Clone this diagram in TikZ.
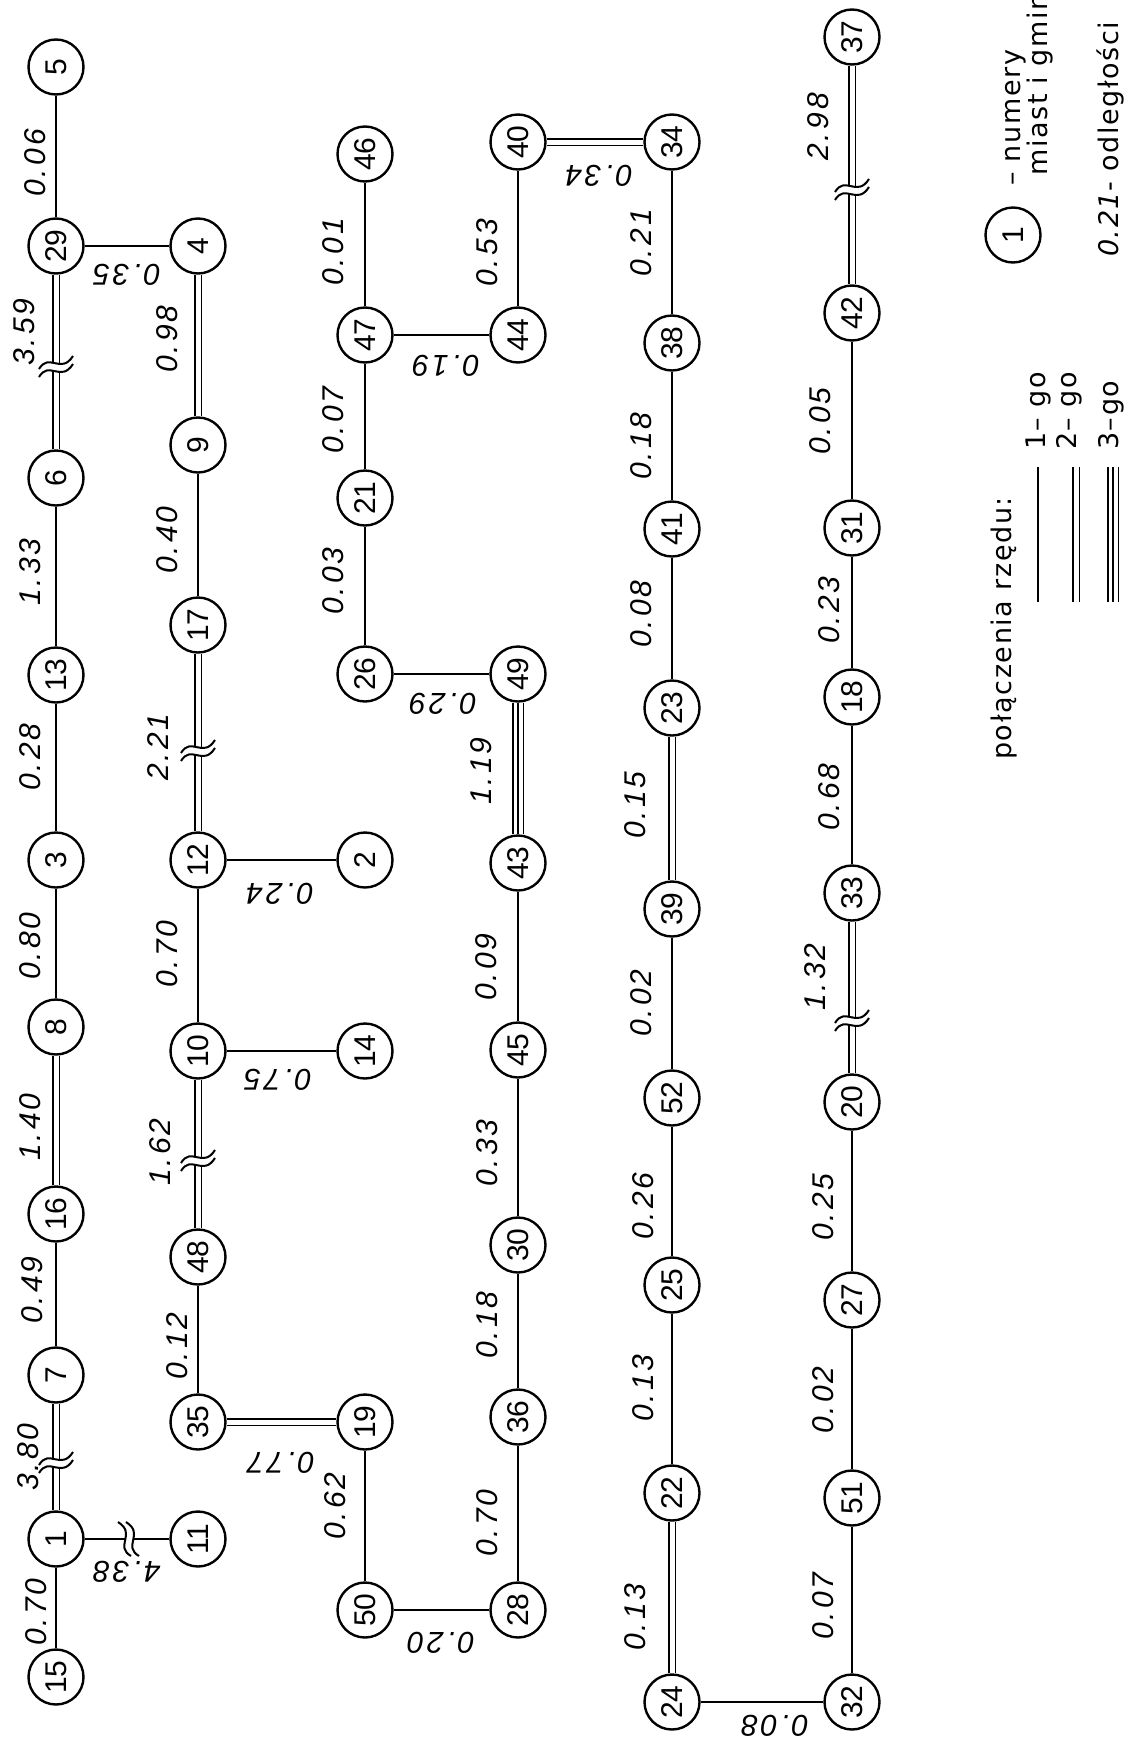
\documentclass[tikz,border=0pt]{standalone}
\usepackage{fontspec}
\usetikzlibrary{backgrounds}
\newfontfamily\ndff{Liberation Sans}
\newfontfamily\lbff{Liberation Sans}[LetterSpace=10]
\newfontfamily\lgff{DejaVu Sans}[LetterSpace=6]
\newcommand\ndfont{\ndff\fontsize{30}{32}\selectfont}
\newcommand\lbfont{\lbff\itshape\fontsize{30}{32}\selectfont}
\newcommand\lgfont{\lgff\fontsize{27}{29}\selectfont}
\tikzset{
  nd/.style={circle,draw,line width=2.4pt,minimum size=55pt,inner sep=0pt,font=\ndfont,rotate=90},
  lb/.style={font=\lbfont,rotate=90,inner sep=0pt},
  lbr/.style={font=\lbfont,rotate=180,inner sep=0pt},
  lg/.style={font=\lgfont,rotate=90,inner sep=0pt,anchor=base west},
  e1/.style={line width=1.9pt},
  e2/.style={line width=1.7pt,double=white,double distance=5pt},
  e3/.style={line width=1.6pt,double=white,double distance=9pt},
  e3m/.style={line width=1.6pt},
  brkmark/.pic={
    \fill[white] (-11,-2) rectangle (11,6);
    \draw[line width=2pt] (-17,4) .. controls (-7,-13) and (5,10) .. (17,-9);
    \draw[line width=2pt] (-17,12) .. controls (-7,-5) and (5,18) .. (17,-1);
  }
}
\begin{document}
\begin{tikzpicture}[x=1pt,y=-1pt]
\useasboundingbox (0,0) rectangle (1140,1748);
% nodes
\foreach \n/\x/\y in {5/56/67,29/56/246,6/56/478,13/56/675,3/56/860,8/56/1027,16/56/1214,7/56/1375,1/56/1539,15/56/1677,
  4/198/246,9/198/445,17/198/625,12/198/860,10/198/1051,48/198/1257,35/198/1422,11/198/1539,
  46/365/154,47/365/335,21/365/498,26/365/674,2/365/860,14/365/1051,19/365/1422,50/365/1610,
  40/518/142,44/518/335,49/518/674,43/518/863,45/518/1050,30/518/1245,36/518/1417,28/518/1610,
  34/672/142,38/672/343,41/672/529,23/672/708,39/672/909,52/672/1098,25/672/1285,22/672/1493,24/672/1702,
  37/852/37,42/852/313,31/852/528,18/852/697,33/852/893,20/852/1102,27/852/1300,51/852/1498,32/852/1702}
  {\node[nd] (n\n) at (\x,\y) {\n};}
% legend circle
\node[nd] (leg1) at (1013,235) {1};
% connectors
\begin{pgfonlayer}{background}
\fill[white] (0,0) rectangle (1140,1748);
\foreach \a/\b in {5/29,29/4,6/13,13/3,3/8,16/7,1/15,1/11,9/17,12/10,48/35,12/2,10/14,
  46/47,47/21,21/26,47/44,26/49,19/50,50/28,40/44,43/45,45/30,30/36,36/28,
  34/38,38/41,41/23,39/52,52/25,25/22,24/32,42/31,31/18,18/33,20/27,27/51,51/32}
  {\draw[e1] (n\a) -- (n\b);}
\foreach \a/\b in {29/6,8/16,7/1,4/9,17/12,10/48,35/19,40/34,23/39,22/24,37/42,33/20}
  {\draw[e2] (n\a) -- (n\b);}
\draw[e3] (n49) -- (n43);
\draw[e3m] (n49) -- (n43);
% breaks
\pic at (56,365) {brkmark};
\pic at (56,1461) {brkmark};
\pic[rotate=90] at (127,1539) {brkmark};
\pic at (198,749) {brkmark};
\pic at (198,1159) {brkmark};
\pic at (852,188) {brkmark};
\pic at (852,1019) {brkmark};
\end{pgfonlayer}
% labels column 1
\node[lb] (l1) at (35,163) {0.06};
\node[lb] (l2) at (24,332) {3.59};
\node[lb] (l3) at (30,572) {1.33};
\node[lb] (l4) at (30,757) {0.28};
\node[lb] (l5) at (30,946) {0.80};
\node[lb] (l6) at (30,1127) {1.40};
\node[lb] (l7) at (32,1290) {0.49};
\node[lb] (l8) at (28,1457) {3.80};
\node[lb] (l9) at (36,1612) {0.70};
\node[lbr] (l10) at (127,275) {0.35};
\node[lbr] (l11) at (127,1572) {4.38};
% column 2
\node[lb] (l12) at (167,339) {0.98};
\node[lb] (l13) at (167,540) {0.40};
\node[lb] (l14) at (158,747) {2.21};
\node[lb] (l15) at (167,954) {0.70};
\node[lb] (l16) at (160,1152) {1.62};
\node[lb] (l17) at (177,1346) {0.12};
\node[lbr] (l18) at (280,894) {0.24};
\node[lbr] (l19) at (278,1080) {0.75};
\node[lbr] (l20) at (281,1463) {0.77};
% column 3
\node[lb] (l21) at (333,252) {0.01};
\node[lb] (l22) at (333,420) {0.07};
\node[lb] (l23) at (333,581) {0.03};
\node[lb] (l24) at (335,1506) {0.62};
\node[lbr] (l25) at (446,366) {0.19};
\node[lbr] (l26) at (443,704) {0.29};
\node[lbr] (l27) at (441,1643) {0.20};
% column 4
\node[lb] (l28) at (487,253) {0.53};
\node[lb] (l29) at (481,771) {1.19};
\node[lb] (l30) at (486,967) {0.09};
\node[lb] (l31) at (487,1153) {0.33};
\node[lb] (l32) at (487,1325) {0.18};
\node[lb] (l33) at (487,1523) {0.70};
\node[lbr] (l34) at (599,176) {0.34};
% column 5
\node[lb] (l35) at (641,243) {0.21};
\node[lb] (l36) at (641,446) {0.18};
\node[lb] (l37) at (641,614) {0.08};
\node[lb] (l38) at (635,805) {0.15};
\node[lb] (l39) at (641,1003) {0.02};
\node[lb] (l40) at (643,1206) {0.26};
\node[lb] (l41) at (643,1388) {0.13};
\node[lb] (l42) at (635,1617) {0.13};
\node[lbr] (l43) at (775,1726) {0.08};
% column 6
\node[lb] (l44) at (818,127) {2.98};
\node[lb] (l45) at (820,421) {0.05};
\node[lb] (l46) at (829,610) {0.23};
\node[lb] (l47) at (829,797) {0.68};
\node[lb] (l48) at (815,977) {1.32};
\node[lb] (l49) at (823,1207) {0.25};
\node[lb] (l50) at (823,1400) {0.02};
\node[lb] (l51) at (823,1606) {0.07};
% legend
\node[lg] (lgnum) at (1020,186) {– numery};
\node[lg] (lgmiast) at (1047,176) {miast i gmin};
\node[lg] (lgodl) at (1118,257) {{\itshape 0.21}- odległości};
\node[lg] (lgpol) at (1011,760) {połączenia rzędu:};
\node[lg] (lgo1) at (1045,450) {1– go};
\node[lg] (lgo2) at (1076,450) {2– go};
\node[lg] (lgo3) at (1118,450) {3–go};
\coordinate (s1a) at (1038,467); \coordinate (s1b) at (1038,602);
\coordinate (s2a) at (1076,467); \coordinate (s2b) at (1076,602);
\coordinate (s3a) at (1113,467); \coordinate (s3b) at (1113,602);
\draw[e1] (s1a) -- (s1b);
\draw[e2] (s2a) -- (s2b);
\draw[e3] (s3a) -- (s3b);
\draw[e3m] (s3a) -- (s3b);
\end{tikzpicture}
\end{document}
